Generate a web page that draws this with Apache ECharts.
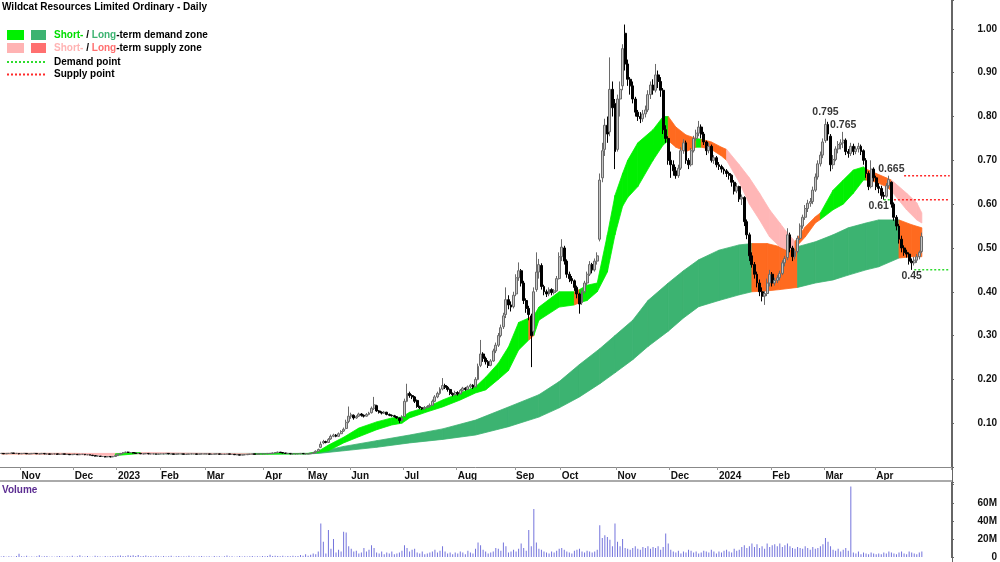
<!DOCTYPE html>
<html lang="en">
<head>
    <meta charset="UTF-8">
    <title>Wildcat Resources Limited Ordinary - Daily</title>
    <script src="https://cdn.jsdelivr.net/npm/echarts@6.0.0/dist/echarts.min.js"></script>
    <style>
        html, body { margin: 0; padding: 0; background: #fff; }
        #main { width: 1000px; height: 562px; }
    </style>
</head>
<body>
<div id="main"></div>
<script type="text/javascript">
// first trading day of each month (index into the day slots) and its label
const monthStarts = [8, 29, 46, 63, 81, 104, 121, 138, 159, 180, 203, 221, 243, 264, 283, 304, 325, 345];
const monthNames = ['Nov', 'Dec', '2023', 'Feb', 'Mar', 'Apr', 'May', 'Jun', 'Jul', 'Aug', 'Sep', 'Oct', 'Nov', 'Dec', '2024', 'Feb', 'Mar', 'Apr'];
const slotCount = 375; // 364 trading days plus the blank gap on the right

// daily candles: [open, close, low, high]
const candles = [
    // Oct 2022
    [0.031,0.031,0.030,0.032],[0.031,0.030,0.030,0.031],[0.030,0.031,0.030,0.032],[0.031,0.031,0.030,0.031],[0.031,0.032,0.031,0.033],[0.032,0.031,0.030,0.032],[0.031,0.031,0.030,0.032],[0.031,0.030,0.029,0.031],
    // Nov
    [0.030,0.031,0.030,0.031],[0.031,0.031,0.030,0.032],[0.031,0.030,0.030,0.031],[0.030,0.030,0.029,0.031],[0.030,0.031,0.030,0.031],[0.031,0.031,0.030,0.032],[0.031,0.030,0.030,0.031],[0.030,0.030,0.029,0.031],[0.030,0.031,0.030,0.032],[0.031,0.030,0.029,0.031],[0.030,0.030,0.029,0.030],[0.030,0.029,0.029,0.030],[0.029,0.030,0.029,0.031],[0.030,0.030,0.029,0.031],[0.030,0.029,0.028,0.030],[0.029,0.029,0.028,0.030],[0.029,0.030,0.029,0.030],[0.030,0.029,0.029,0.030],[0.029,0.029,0.028,0.030],[0.029,0.028,0.028,0.029],[0.028,0.029,0.028,0.029],
    // Dec
    [0.029,0.029,0.028,0.030],[0.029,0.028,0.028,0.029],[0.028,0.029,0.028,0.030],[0.029,0.029,0.028,0.029],[0.029,0.028,0.027,0.029],[0.028,0.028,0.027,0.029],[0.028,0.027,0.027,0.028],[0.027,0.026,0.025,0.027],[0.026,0.025,0.024,0.026],[0.025,0.025,0.024,0.026],[0.025,0.024,0.023,0.025],[0.024,0.024,0.023,0.025],[0.024,0.023,0.022,0.024],[0.023,0.024,0.023,0.025],[0.024,0.023,0.022,0.024],[0.023,0.024,0.023,0.025],[0.024,0.026,0.024,0.027],
    // Jan 2023
    [0.026,0.029,0.026,0.030],[0.029,0.031,0.029,0.032],[0.031,0.033,0.030,0.034],[0.033,0.034,0.032,0.035],[0.034,0.033,0.032,0.035],[0.033,0.033,0.032,0.034],[0.033,0.032,0.031,0.033],[0.032,0.031,0.030,0.032],[0.031,0.031,0.030,0.032],[0.031,0.030,0.030,0.031],[0.030,0.030,0.029,0.031],[0.030,0.031,0.030,0.031],[0.031,0.030,0.029,0.031],[0.030,0.030,0.029,0.030],[0.030,0.030,0.029,0.031],[0.030,0.029,0.029,0.030],[0.029,0.030,0.029,0.030],
    // Feb
    [0.030,0.030,0.029,0.031],[0.030,0.030,0.029,0.030],[0.030,0.031,0.030,0.031],[0.031,0.030,0.029,0.031],[0.030,0.030,0.029,0.030],[0.030,0.029,0.029,0.030],[0.029,0.030,0.029,0.030],[0.030,0.030,0.029,0.031],[0.030,0.030,0.029,0.030],[0.030,0.029,0.029,0.030],[0.029,0.029,0.028,0.030],[0.029,0.030,0.029,0.030],[0.030,0.030,0.029,0.031],[0.030,0.030,0.029,0.030],[0.030,0.029,0.029,0.030],[0.029,0.030,0.029,0.030],[0.030,0.030,0.029,0.031],[0.030,0.030,0.029,0.030],
    // Mar
    [0.030,0.030,0.029,0.030],[0.030,0.029,0.029,0.030],[0.029,0.029,0.028,0.030],[0.029,0.030,0.029,0.030],[0.030,0.030,0.029,0.030],[0.030,0.029,0.029,0.030],[0.029,0.029,0.028,0.029],[0.029,0.029,0.028,0.030],[0.029,0.030,0.029,0.030],[0.030,0.029,0.029,0.030],[0.029,0.029,0.028,0.029],[0.029,0.028,0.028,0.029],[0.028,0.028,0.027,0.029],[0.028,0.027,0.027,0.028],[0.027,0.028,0.027,0.028],[0.028,0.028,0.027,0.029],[0.028,0.029,0.028,0.029],[0.029,0.029,0.028,0.030],[0.029,0.030,0.029,0.030],[0.030,0.029,0.029,0.030],[0.029,0.030,0.029,0.030],[0.030,0.030,0.029,0.030],[0.030,0.030,0.029,0.031],
    // Apr
    [0.030,0.030,0.029,0.031],[0.030,0.031,0.030,0.031],[0.031,0.031,0.030,0.032],[0.031,0.032,0.031,0.033],[0.032,0.033,0.032,0.034],[0.033,0.034,0.033,0.035],[0.034,0.033,0.032,0.034],[0.033,0.032,0.031,0.033],[0.032,0.031,0.030,0.032],[0.031,0.031,0.030,0.032],[0.031,0.030,0.029,0.031],[0.030,0.030,0.029,0.031],[0.030,0.030,0.029,0.030],[0.030,0.030,0.029,0.031],[0.030,0.031,0.030,0.031],[0.031,0.030,0.030,0.031],[0.030,0.030,0.029,0.031],
    // May
    [0.030,0.030,0.029,0.031],[0.030,0.031,0.030,0.032],[0.031,0.033,0.031,0.034],[0.033,0.036,0.033,0.038],[0.036,0.040,0.035,0.042],[0.045,0.052,0.043,0.058],[0.055,0.058,0.052,0.062],[0.058,0.056,0.054,0.060],[0.056,0.063,0.055,0.066],[0.064,0.070,0.062,0.074],[0.070,0.073,0.068,0.076],[0.073,0.070,0.068,0.075],[0.070,0.076,0.069,0.079],[0.076,0.081,0.075,0.084],[0.082,0.086,0.080,0.090],[0.088,0.102,0.086,0.108],[0.104,0.116,0.100,0.138],
    // Jun
    [0.116,0.119,0.110,0.124],[0.118,0.112,0.108,0.120],[0.112,0.115,0.110,0.118],[0.116,0.121,0.114,0.124],[0.121,0.118,0.115,0.123],[0.118,0.116,0.113,0.120],[0.116,0.120,0.115,0.123],[0.120,0.123,0.118,0.126],[0.124,0.134,0.122,0.138],[0.134,0.142,0.130,0.160],[0.140,0.128,0.126,0.142],[0.128,0.125,0.122,0.130],[0.125,0.123,0.120,0.127],[0.123,0.125,0.121,0.128],[0.125,0.120,0.118,0.126],[0.120,0.118,0.116,0.122],[0.118,0.117,0.115,0.120],[0.117,0.115,0.113,0.119],[0.115,0.112,0.110,0.116],[0.112,0.106,0.100,0.113],[0.106,0.112,0.104,0.118],
    // Jul
    [0.115,0.150,0.114,0.156],[0.150,0.168,0.148,0.190],[0.168,0.163,0.158,0.172],[0.163,0.160,0.155,0.166],[0.160,0.150,0.146,0.162],[0.152,0.138,0.135,0.154],[0.138,0.135,0.132,0.140],[0.135,0.133,0.130,0.137],[0.133,0.136,0.131,0.139],[0.136,0.138,0.134,0.141],[0.138,0.141,0.136,0.145],[0.141,0.150,0.140,0.154],[0.150,0.160,0.148,0.164],[0.160,0.168,0.157,0.172],[0.168,0.178,0.165,0.182],[0.178,0.186,0.175,0.203],[0.186,0.182,0.178,0.190],[0.182,0.177,0.172,0.185],[0.177,0.168,0.164,0.179],[0.168,0.165,0.161,0.170],[0.165,0.170,0.163,0.174],
    // Aug
    [0.170,0.167,0.163,0.173],[0.167,0.175,0.166,0.178],[0.175,0.180,0.172,0.183],[0.180,0.177,0.174,0.182],[0.177,0.183,0.176,0.186],[0.183,0.187,0.180,0.190],[0.187,0.182,0.178,0.189],[0.183,0.200,0.182,0.205],[0.200,0.230,0.198,0.236],[0.232,0.258,0.228,0.290],[0.258,0.248,0.240,0.262],[0.248,0.240,0.234,0.252],[0.240,0.232,0.226,0.244],[0.232,0.242,0.230,0.246],[0.242,0.265,0.240,0.270],[0.265,0.278,0.260,0.284],[0.278,0.300,0.274,0.306],[0.300,0.318,0.296,0.325],[0.320,0.345,0.315,0.352],[0.348,0.382,0.340,0.410],[0.382,0.370,0.360,0.392],[0.370,0.365,0.355,0.378],[0.366,0.392,0.362,0.400],
    // Sep
    [0.395,0.432,0.390,0.440],[0.432,0.448,0.425,0.467],[0.448,0.420,0.412,0.452],[0.420,0.380,0.372,0.425],[0.380,0.362,0.352,0.385],[0.362,0.348,0.335,0.368],[0.345,0.300,0.228,0.350],[0.310,0.400,0.300,0.410],[0.405,0.445,0.400,0.490],[0.445,0.462,0.430,0.475],[0.460,0.412,0.405,0.465],[0.412,0.400,0.392,0.416],[0.400,0.395,0.388,0.405],[0.395,0.405,0.390,0.410],[0.405,0.398,0.392,0.408],[0.398,0.402,0.394,0.406],[0.402,0.430,0.400,0.436],[0.430,0.480,0.428,0.490],
    // Oct
    [0.480,0.502,0.470,0.520],[0.500,0.470,0.462,0.505],[0.470,0.440,0.432,0.474],[0.440,0.430,0.422,0.446],[0.430,0.425,0.418,0.436],[0.425,0.410,0.402,0.428],[0.410,0.395,0.385,0.414],[0.395,0.372,0.350,0.398],[0.375,0.400,0.370,0.405],[0.400,0.420,0.396,0.425],[0.420,0.440,0.415,0.446],[0.440,0.462,0.436,0.470],[0.462,0.450,0.442,0.466],[0.450,0.470,0.446,0.476],[0.470,0.482,0.462,0.490],[0.520,0.655,0.515,0.670],[0.660,0.722,0.650,0.740],[0.725,0.780,0.710,0.795],[0.780,0.760,0.740,0.800],[0.765,0.862,0.755,0.935],[0.862,0.820,0.800,0.880],[0.830,0.720,0.680,0.840],
    // Nov
    [0.725,0.840,0.720,0.850],[0.840,0.862,0.800,0.880],[0.870,0.955,0.860,0.965],[0.990,0.920,0.905,1.010],[0.920,0.885,0.870,0.930],[0.885,0.870,0.850,0.890],[0.870,0.840,0.830,0.880],[0.840,0.810,0.800,0.845],[0.810,0.800,0.790,0.815],[0.800,0.795,0.785,0.810],[0.795,0.806,0.788,0.815],[0.806,0.815,0.798,0.825],[0.815,0.850,0.810,0.860],[0.850,0.872,0.840,0.880],[0.872,0.860,0.850,0.885],[0.860,0.895,0.855,0.920],[0.895,0.880,0.865,0.905],[0.880,0.860,0.845,0.890],[0.860,0.770,0.760,0.865],[0.770,0.750,0.740,0.780],[0.750,0.700,0.690,0.755],
    // Dec
    [0.700,0.690,0.660,0.720],[0.690,0.676,0.665,0.700],[0.676,0.665,0.658,0.685],[0.665,0.682,0.660,0.690],[0.682,0.722,0.678,0.730],[0.722,0.740,0.715,0.748],[0.740,0.700,0.692,0.745],[0.700,0.690,0.680,0.705],[0.690,0.722,0.686,0.728],[0.722,0.750,0.718,0.756],[0.750,0.762,0.745,0.770],[0.762,0.776,0.755,0.790],[0.776,0.760,0.750,0.782],[0.760,0.742,0.735,0.765],[0.742,0.722,0.712,0.745],[0.722,0.732,0.716,0.740],[0.732,0.700,0.695,0.736],[0.700,0.706,0.692,0.712],[0.706,0.690,0.684,0.710],
    // Jan 2024
    [0.690,0.686,0.678,0.696],[0.686,0.680,0.672,0.690],[0.680,0.676,0.668,0.684],[0.676,0.670,0.662,0.680],[0.670,0.666,0.656,0.674],[0.666,0.650,0.640,0.668],[0.650,0.630,0.622,0.655],[0.630,0.640,0.625,0.648],[0.640,0.612,0.605,0.642],[0.612,0.616,0.598,0.622],[0.615,0.560,0.550,0.618],[0.560,0.530,0.520,0.565],[0.530,0.482,0.470,0.535],[0.482,0.462,0.455,0.490],[0.462,0.440,0.430,0.468],[0.440,0.420,0.410,0.446],[0.420,0.400,0.390,0.428],[0.400,0.390,0.378,0.410],[0.390,0.396,0.370,0.402],[0.396,0.420,0.390,0.430],[0.420,0.440,0.412,0.450],
    // Feb
    [0.440,0.420,0.412,0.445],[0.420,0.426,0.414,0.432],[0.426,0.432,0.420,0.438],[0.432,0.442,0.426,0.448],[0.442,0.466,0.438,0.472],[0.466,0.476,0.458,0.482],[0.478,0.530,0.472,0.545],[0.530,0.500,0.490,0.535],[0.500,0.480,0.470,0.505],[0.480,0.492,0.474,0.498],[0.492,0.522,0.488,0.528],[0.522,0.550,0.518,0.556],[0.550,0.570,0.544,0.576],[0.570,0.590,0.564,0.598],[0.590,0.602,0.582,0.610],[0.602,0.606,0.594,0.614],[0.606,0.632,0.600,0.640],[0.632,0.662,0.628,0.670],[0.662,0.692,0.656,0.700],[0.692,0.712,0.686,0.720],[0.712,0.742,0.705,0.750],
    // Mar
    [0.745,0.782,0.740,0.795],[0.782,0.760,0.745,0.788],[0.755,0.690,0.675,0.760],[0.690,0.702,0.680,0.712],[0.702,0.726,0.698,0.732],[0.726,0.736,0.716,0.744],[0.736,0.740,0.725,0.748],[0.740,0.746,0.728,0.765],[0.746,0.720,0.712,0.750],[0.720,0.716,0.706,0.726],[0.716,0.732,0.710,0.740],[0.732,0.720,0.712,0.738],[0.720,0.726,0.714,0.732],[0.726,0.732,0.718,0.740],[0.732,0.720,0.712,0.736],[0.722,0.700,0.690,0.725],[0.700,0.670,0.660,0.705],[0.670,0.640,0.632,0.675],[0.640,0.680,0.636,0.700],[0.680,0.660,0.652,0.684],
    // Apr
    [0.660,0.640,0.632,0.665],[0.640,0.636,0.625,0.648],[0.636,0.620,0.612,0.642],[0.620,0.618,0.610,0.628],[0.618,0.642,0.615,0.648],[0.642,0.656,0.636,0.665],[0.650,0.600,0.592,0.652],[0.600,0.570,0.562,0.604],[0.570,0.550,0.540,0.575],[0.550,0.520,0.510,0.555],[0.520,0.500,0.490,0.528],[0.500,0.490,0.482,0.506],[0.490,0.486,0.478,0.496],[0.486,0.470,0.462,0.490],[0.470,0.466,0.450,0.476],[0.466,0.472,0.460,0.480],[0.472,0.480,0.466,0.486],[0.480,0.490,0.474,0.494],[0.492,0.526,0.488,0.535]
];

// daily volume in millions
const volumes = [
    0.5,1.2,0.3,0.8,0.6,0.4,1.0,3.5,
    0.8,0.5,1.5,0.4,0.6,0.3,0.9,2.0,0.5,0.7,1.2,0.4,0.6,0.3,0.8,1.1,0.5,0.4,0.9,0.6,1.3,
    0.4,0.7,1.8,0.5,0.6,1.0,0.4,0.3,1.5,0.8,0.6,0.4,1.2,0.5,0.7,1.0,0.9,
    1.4,1.6,1.2,0.9,2.0,1.5,1.8,1.1,2.3,0.8,1.2,1.6,0.7,1.0,0.6,1.3,0.9,
    0.6,1.1,0.5,0.8,1.3,0.4,0.7,1.0,0.5,0.9,0.6,1.4,0.5,0.8,0.3,0.7,1.1,0.6,
    0.5,0.9,0.4,1.2,0.6,0.8,0.3,0.7,1.6,0.5,0.9,0.4,0.6,1.0,0.5,0.8,0.6,0.7,1.1,0.5,0.9,0.6,1.2,
    0.8,1.0,2.5,1.2,1.5,1.0,0.8,1.3,0.6,1.1,0.9,1.5,0.7,1.0,2.2,1.4,3.0,
    1.5,2.5,4.0,3.0,6.0,37,17,4,30,9,20,5,8,6,28,27,12,
    9,6,7,4,5,10,6,8,13,10,5,4,6,3,5,4,6,3,4,5,7,
    13,10,6,8,9,5,4,6,3,4,5,6,8,5,7,12,6,4,5,3,5,
    4,6,5,3,7,5,4,9,16,13,8,6,4,5,6,10,9,7,16,12,5,6,8,
    6,9,15,10,7,30,12,53,16,9,8,6,5,4,6,5,7,9,
    10,8,6,5,4,7,8,9,6,5,7,6,5,6,8,35,21,24,22,19,12,37,
    17,12,20,10,9,8,10,12,9,8,11,10,12,9,11,10,12,8,11,26,15,
    8,6,5,7,4,6,5,8,7,5,6,4,5,7,6,5,8,6,4,
    6,5,7,8,6,5,9,7,8,11,13,10,12,15,11,14,10,12,9,15,11,
    13,14,12,15,11,13,15,12,10,9,11,10,9,12,10,8,11,9,10,12,14,
    21,17,12,8,7,9,6,8,10,7,78,5,4,6,3,5,4,3,5,4,
    3,4,3,5,4,6,5,4,3,5,6,4,3,6,5,4,3,5,6
];

// short-term zone, read at sample days; state = colour of the stretch that starts there
const shortDays  = [0, 25, 45, 55, 100, 121, 125, 129, 135, 141, 148, 154, 158, 161, 168, 174, 181, 187, 191, 196, 200, 204, 208, 210, 212, 220, 226, 228, 231, 235, 239, 242, 245, 247, 251, 257, 261, 263, 266, 270, 274, 276, 280, 284, 286, 291, 295, 299, 303, 307, 310, 313, 317, 321, 323, 328, 332, 336, 340, 341, 345, 349, 351, 357, 361, 363];
const shortLo    = [0.030, 0.029, 0.026, 0.031, 0.029, 0.030, 0.033, 0.037, 0.055, 0.069, 0.085, 0.096, 0.100, 0.112, 0.126, 0.137, 0.153, 0.169, 0.176, 0.200, 0.220, 0.267, 0.290, 0.300, 0.335, 0.365, 0.370, 0.375, 0.380, 0.400, 0.445, 0.530, 0.595, 0.615, 0.640, 0.700, 0.735, 0.745, 0.730, 0.720, 0.730, 0.730, 0.725, 0.710, 0.700, 0.650, 0.600, 0.564, 0.525, 0.503, 0.495, 0.500, 0.525, 0.557, 0.565, 0.587, 0.600, 0.625, 0.655, 0.655, 0.650, 0.640, 0.630, 0.587, 0.564, 0.557];
const shortHi    = [0.031, 0.031, 0.030, 0.033, 0.030, 0.031, 0.036, 0.050, 0.068, 0.089, 0.103, 0.112, 0.114, 0.125, 0.137, 0.153, 0.169, 0.183, 0.205, 0.237, 0.274, 0.330, 0.340, 0.345, 0.365, 0.400, 0.400, 0.405, 0.415, 0.420, 0.530, 0.620, 0.670, 0.700, 0.740, 0.770, 0.800, 0.800, 0.776, 0.758, 0.750, 0.748, 0.742, 0.730, 0.725, 0.690, 0.660, 0.625, 0.587, 0.557, 0.534, 0.515, 0.548, 0.571, 0.580, 0.632, 0.655, 0.678, 0.685, 0.680, 0.670, 0.660, 0.655, 0.625, 0.603, 0.580];
const shortState = ['p','p','g','p','g','g','g','g','g','g','g','g','g','g','g','g','g','g','g','g','g','g','o','g','g','g','o','g','g','g','g','g','g','g','g','g','g','o','o','o','g','o','o','o','p','p','p','p','p','p','p','o','o','o','g','g','g','g','g','o','o','o','p','p','p','p'];

// long-term zone
const longDays  = [0, 30, 60, 121, 125, 135, 148, 161, 174, 187, 200, 212, 220, 228, 236, 242, 249, 255, 263, 269, 275, 283, 291, 296, 302, 307, 314, 321, 328, 334, 341, 346, 354, 359, 363];
const longLo    = [0.030, 0.030, 0.030, 0.030, 0.031, 0.037, 0.045, 0.055, 0.063, 0.073, 0.092, 0.114, 0.135, 0.160, 0.190, 0.215, 0.245, 0.275, 0.310, 0.340, 0.366, 0.380, 0.393, 0.400, 0.402, 0.405, 0.410, 0.420, 0.427, 0.438, 0.450, 0.457, 0.477, 0.480, 0.480];
const longHi    = [0.031, 0.031, 0.031, 0.031, 0.034, 0.047, 0.060, 0.073, 0.087, 0.107, 0.137, 0.165, 0.195, 0.234, 0.270, 0.300, 0.335, 0.380, 0.420, 0.448, 0.473, 0.495, 0.507, 0.510, 0.510, 0.503, 0.503, 0.514, 0.530, 0.546, 0.557, 0.564, 0.564, 0.553, 0.546];
const longState = ['o','p','G','G','G','G','G','G','G','G','G','G','G','G','G','G','G','G','G','G','G','G','G','o','o','o','G','G','G','G','G','G','o','o','o'];

// labelled supply / demand points: [day, price, text, side]
const pointLabels = [
    [325, 0.795, '0.795', 'top'],
    [332, 0.765, '0.765', 'top'],
    [351, 0.665, '0.665', 'top'],
    [346, 0.61, '0.61', 'bottom'],
    [359, 0.45, '0.45', 'bottom']
];
// dotted point lines: [fromDay, toDay, price, kind]
const pointLines = [
    [356, 374, 0.665, 'supply'],
    [348, 351, 0.61, 'demand'],
    [352, 374, 0.61, 'supply'],
    [360, 374, 0.45, 'demand']
];

const zoneColors = { g: '#00f000', p: '#ffb6b6', o: '#ff6a1f', G: '#3cb371' };
const lineColors = { supply: '#ff2a2a', demand: '#2edc2e' };
const font = "'Liberation Sans', Arial, sans-serif";

const myChart = echarts.init(document.getElementById('main'));
const cats = Array.from({ length: slotCount }, (_, i) => String(i));
const isMonth = (i) => monthStarts.indexOf(i) >= 0;

function zoneSeries(days, lo, hi, state, z) {
    const data = [];
    for (let k = 0; k < days.length - 1; k++) {
        data.push([days[k], lo[k], hi[k], days[k + 1], lo[k + 1], hi[k + 1]]);
    }
    return {
        type: 'custom',
        xAxisIndex: 0,
        yAxisIndex: 0,
        z: z,
        silent: true,
        encode: { x: [0, 3], y: [1, 2, 4, 5] },
        renderItem: function (params, api) {
            const a = api.coord([api.value(0), api.value(1)]);
            const b = api.coord([api.value(3), api.value(4)]);
            const c = api.coord([api.value(3), api.value(5)]);
            const d = api.coord([api.value(0), api.value(2)]);
            const col = zoneColors[state[params.dataIndex]];
            return {
                type: 'polygon',
                shape: { points: [a, b, c, d] },
                style: { fill: col, stroke: col, lineWidth: 0.8 }
            };
        },
        data: data
    };
}

const lineSeries = pointLines.map(function (l) {
    return {
        type: 'line',
        xAxisIndex: 0,
        yAxisIndex: 0,
        z: 4,
        silent: true,
        symbol: 'none',
        lineStyle: { color: lineColors[l[3]], width: 1.5, type: [2, 2] },
        data: [[l[0], l[2]], [l[1], l[2]]]
    };
});

const axisText = { fontSize: 10, fontWeight: 'bold', color: '#111', fontFamily: font };

const options = {
    animation: false,
    backgroundColor: '#fff',
    title: {
        text: 'Wildcat Resources Limited Ordinary - Daily',
        left: 2,
        top: 2,
        padding: 0,
        textStyle: { fontSize: 10, fontWeight: 'bold', color: '#000', fontFamily: font }
    },
    grid: [
        { left: 0, right: 48, top: 0, height: 467 },
        { left: 0, right: 48, top: 482, height: 76 }
    ],
    xAxis: [
        {
            type: 'category',
            gridIndex: 0,
            data: cats,
            boundaryGap: true,
            axisLine: { lineStyle: { color: '#888', width: 1 } },
            axisTick: { show: true, interval: isMonth, length: 3, lineStyle: { color: '#999' } },
            axisLabel: Object.assign({
                interval: isMonth,
                formatter: (v, i) => monthNames[monthStarts.indexOf(i)],
                align: 'left',
                margin: 4
            }, axisText),
            splitLine: { show: false }
        },
        {
            type: 'category',
            gridIndex: 1,
            data: cats,
            boundaryGap: true,
            axisLine: { show: false },
            axisTick: { show: false },
            axisLabel: { show: false }
        }
    ],
    yAxis: [
        {
            type: 'value',
            gridIndex: 0,
            position: 'right',
            min: 0,
            max: 1.066,
            interval: 0.1,
            axisLine: { show: true, lineStyle: { color: '#666' } },
            axisTick: { show: true, length: 3, lineStyle: { color: '#666' } },
            axisLabel: Object.assign({
                formatter: (v) => (v > 0.05 && v < 1.05) ? v.toFixed(2) : '',
                align: 'right',
                margin: 46
            }, axisText),
            splitLine: { show: false }
        },
        {
            type: 'value',
            gridIndex: 1,
            position: 'right',
            min: 0,
            max: 83,
            interval: 20,
            axisLine: { show: true, lineStyle: { color: '#666' } },
            axisTick: { show: true, length: 3, lineStyle: { color: '#666' } },
            axisLabel: Object.assign({
                formatter: (v) => v === 0 ? '0' : (v <= 60 ? v + 'M' : ''),
                align: 'right',
                margin: 46
            }, axisText),
            splitLine: { show: false }
        }
    ],
    series: [
        zoneSeries(longDays, longLo, longHi, longState, 1),
        zoneSeries(shortDays, shortLo, shortHi, shortState, 2),
        {
            type: 'candlestick',
            xAxisIndex: 0,
            yAxisIndex: 0,
            z: 3,
            barWidth: 2.4,
            silent: true,
            itemStyle: {
                color: '#c4c4c4',
                color0: '#000',
                borderColor: '#6a6a6a',
                borderColor0: '#000',
                borderWidth: 1
            },
            data: candles
        }
    ].concat(lineSeries, [
        {
            type: 'scatter',
            xAxisIndex: 0,
            yAxisIndex: 0,
            z: 5,
            symbolSize: 0,
            silent: true,
            data: pointLabels.map(p => ({
                value: [p[0], p[1]],
                label: {
                    show: true,
                    position: p[3],
                    distance: 1,
                    formatter: p[2],
                    fontSize: 10.5,
                    fontWeight: 'bold',
                    color: '#000',
                    fontFamily: font
                }
            }))
        },
        {
            type: 'bar',
            xAxisIndex: 1,
            yAxisIndex: 1,
            barWidth: 1,
            silent: true,
            itemStyle: { color: '#7474dc' },
            data: volumes
        }
    ]),
    graphic: [
        // panel separators
        { type: 'line', z: 10, shape: { x1: 0, y1: 481, x2: 952, y2: 481 }, style: { stroke: '#aaa', lineWidth: 2 } },
        { type: 'line', z: 10, shape: { x1: 952.5, y1: 0, x2: 952.5, y2: 562 }, style: { stroke: '#666', lineWidth: 1 } },
        // legend
        { type: 'rect', z: 10, shape: { x: 7, y: 30, width: 17, height: 10 }, style: { fill: zoneColors.g } },
        { type: 'rect', z: 10, shape: { x: 31, y: 30, width: 15, height: 10 }, style: { fill: zoneColors.G } },
        { type: 'rect', z: 10, shape: { x: 7, y: 43, width: 17, height: 10 }, style: { fill: '#ffb3b3' } },
        { type: 'rect', z: 10, shape: { x: 31, y: 43, width: 15, height: 10 }, style: { fill: '#ff7070' } },
        { type: 'line', z: 10, shape: { x1: 7, y1: 62, x2: 46, y2: 62 }, style: { stroke: lineColors.demand, lineWidth: 2, lineDash: [2, 2] } },
        { type: 'line', z: 10, shape: { x1: 7, y1: 74.5, x2: 46, y2: 74.5 }, style: { stroke: lineColors.supply, lineWidth: 2, lineDash: [2, 2] } },
        {
            type: 'text', z: 10, x: 54, y: 35,
            style: {
                text: '{a|Short-} / {b|Long}-term demand zone',
                font: 'bold 10px ' + font, fill: '#000', verticalAlign: 'middle',
                rich: {
                    a: { fill: '#00dd00', color: '#00dd00', fontWeight: 'bold', fontSize: 10, fontFamily: font },
                    b: { fill: '#3cb371', color: '#3cb371', fontWeight: 'bold', fontSize: 10, fontFamily: font }
                }
            }
        },
        {
            type: 'text', z: 10, x: 54, y: 48,
            style: {
                text: '{a|Short-} / {b|Long}-term supply zone',
                font: 'bold 10px ' + font, fill: '#000', verticalAlign: 'middle',
                rich: {
                    a: { fill: '#ffb3b3', color: '#ffb3b3', fontWeight: 'bold', fontSize: 10, fontFamily: font },
                    b: { fill: '#ff6f6f', color: '#ff6f6f', fontWeight: 'bold', fontSize: 10, fontFamily: font }
                }
            }
        },
        { type: 'text', z: 10, x: 54, y: 62, style: { text: 'Demand point', font: 'bold 10px ' + font, fill: '#000', verticalAlign: 'middle' } },
        { type: 'text', z: 10, x: 54, y: 74.5, style: { text: 'Supply point', font: 'bold 10px ' + font, fill: '#000', verticalAlign: 'middle' } },
        { type: 'text', z: 10, x: 2, y: 490, style: { text: 'Volume', font: 'bold 10px ' + font, fill: '#5b2c91', verticalAlign: 'middle' } }
    ]
};

myChart.setOption(options);
</script>
</body>
</html>
